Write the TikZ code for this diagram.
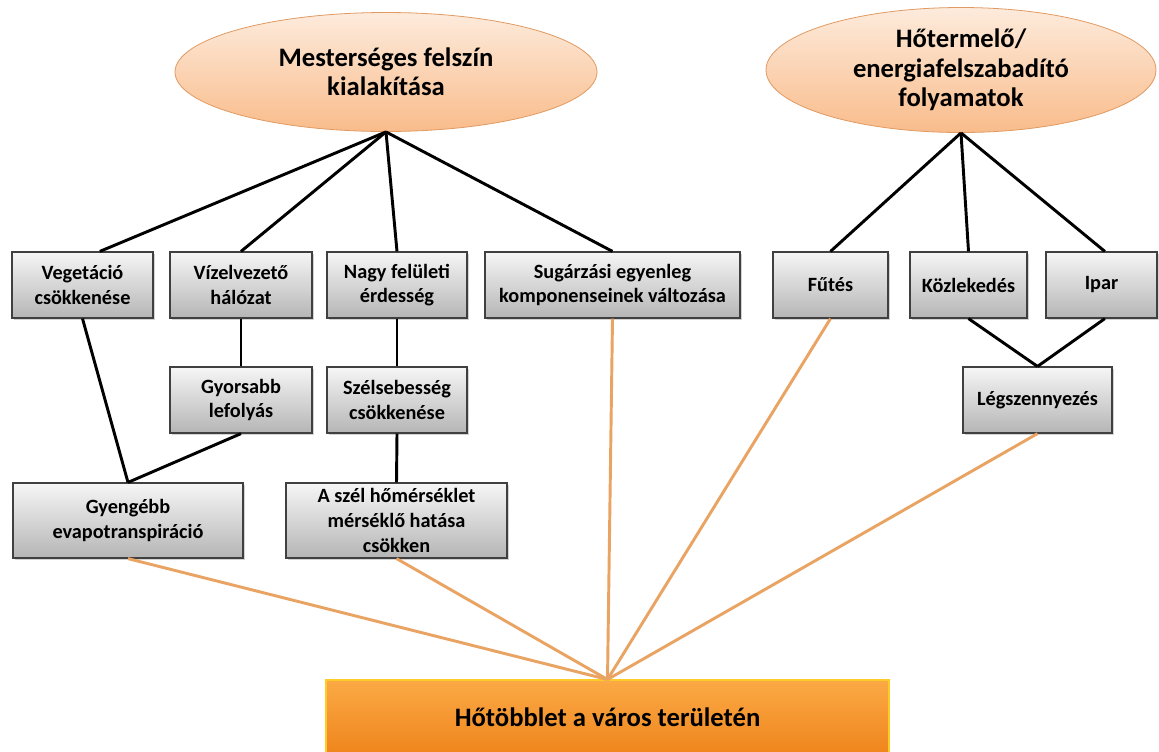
\documentclass[tikz,border=0pt]{standalone}
\usepackage{fontspec}
\setmainfont{Carlito}
\usetikzlibrary{shapes.geometric,shadows}
\definecolor{boxtop}{HTML}{F6F6F6}
\definecolor{boxbot}{HTML}{B5B5B5}
\definecolor{elltop}{HTML}{FDEBDC}
\definecolor{ellbot}{HTML}{F9BC8B}
\definecolor{ellline}{HTML}{E09A62}
\definecolor{hottop}{HTML}{FBAA45}
\definecolor{hotbot}{HTML}{EF841C}
\definecolor{link}{HTML}{E9A363}
\tikzset{
  sz/.style 2 args={minimum width={#1*0.75pt}, minimum height={#2*0.75pt}},
  box/.style={draw=black!75, line width=0.9pt, top color=boxtop, bottom color=boxbot,
    inner sep=0pt, align=center, font=\bfseries\fontsize{15.2}{18.5}\selectfont,
    drop shadow={opacity=0.35, shadow xshift=1.5pt, shadow yshift=-1.5pt}},
  cause/.style={ellipse, draw=ellline, line width=0.6pt, top color=elltop, bottom color=ellbot,
    inner sep=0pt, align=center, font=\bfseries\fontsize{20}{22}\selectfont},
  effect/.style={draw=hottop!60!yellow, line width=0.8pt, top color=hottop, bottom color=hotbot,
    inner sep=0pt, align=center, font=\bfseries\fontsize{20}{22}\selectfont},
  tie/.style={line width=2.2pt, black},
  heat/.style={line width=2.2pt, link}
}
\begin{document}
\begin{tikzpicture}[x=0.75pt, y=-0.75pt]
\useasboundingbox (0,0) rectangle (1159,751);

\node[cause, sz={422}{119}] (surf) at (386,72) {Mesterséges felszín\\kialakítása};
\node[cause, sz={390}{125}] (proc) at (961,70) {\fontsize{20}{19}\selectfont Hőtermelő/\\energiafelszabadító\\folyamatok};

\node[box, sz={141}{66}] (veg) at (82.5,285) {Vegetáció\\csökkenése};
\node[box, sz={142}{66}] (viz) at (241,285) {Vízelvezető\\hálózat};
\node[box, sz={140}{66}] (nagy) at (397,285) {Nagy felületi\\érdesség};
\node[box, sz={255}{66}] (sug) at (612.5,285) {Sugárzási egyenleg\\komponenseinek változása};
\node[box, sz={115}{66}] (fut) at (830.5,285) {Fűtés};
\node[box, sz={117}{66}] (kozl) at (968.5,285) {Közlekedés};
\node[box, sz={111}{66}] (ipar) at (1101.5,285) {Ipar};

\node[box, sz={142}{66}] (gyors) at (241,400) {Gyorsabb\\lefolyás};
\node[box, sz={140}{66}] (szel) at (397,400) {Szélsebesség\\csökkenése};
\node[box, sz={149}{66}] (legsz) at (1037.5,400) {Légszennyezés};

\node[box, sz={230}{75}] (gyeng) at (128,520.5) {Gyengébb\\evapotranspiráció};
\node[box, sz={221}{75}] (aszel) at (396.5,520.5) {\fontsize{15.2}{17.2}\selectfont A szél hőmérséklet\\mérséklő hatása\\csökken};

\node[effect, sz={563}{75}] (hot) at (607.5,717.5) {Hőtöbblet a város területén};

\draw[tie] (surf.south) -- ([xshift=13pt]veg.north);
\draw[tie] (surf.south) -- (viz.north);
\draw[tie] (surf.south) -- (nagy.north);
\draw[tie] (surf.south) -- (sug.north);
\draw[tie] (veg.south) -- (gyeng.north);
\draw[tie] (viz.south) -- (gyors.north);
\draw[tie] (gyors.south) -- (gyeng.north);
\draw[tie] (nagy.south) -- (szel.north);
\draw[tie] (szel.south) -- (aszel.north);

\draw[tie] (proc.south) -- (fut.north);
\draw[tie] (proc.south) -- (kozl.north);
\draw[tie] (proc.south) -- ([xshift=2.5pt]ipar.north);
\draw[tie] (kozl.south) -- (legsz.north);
\draw[tie] ([xshift=2.5pt]ipar.south) -- (legsz.north);

\draw[heat] (gyeng.south) -- (hot.north);
\draw[heat] (aszel.south) -- (hot.north);
\draw[heat] (sug.south) -- (hot.north);
\draw[heat] (fut.south) -- (hot.north);
\draw[heat] (legsz.south) -- (hot.north);
\end{tikzpicture}
\end{document}
